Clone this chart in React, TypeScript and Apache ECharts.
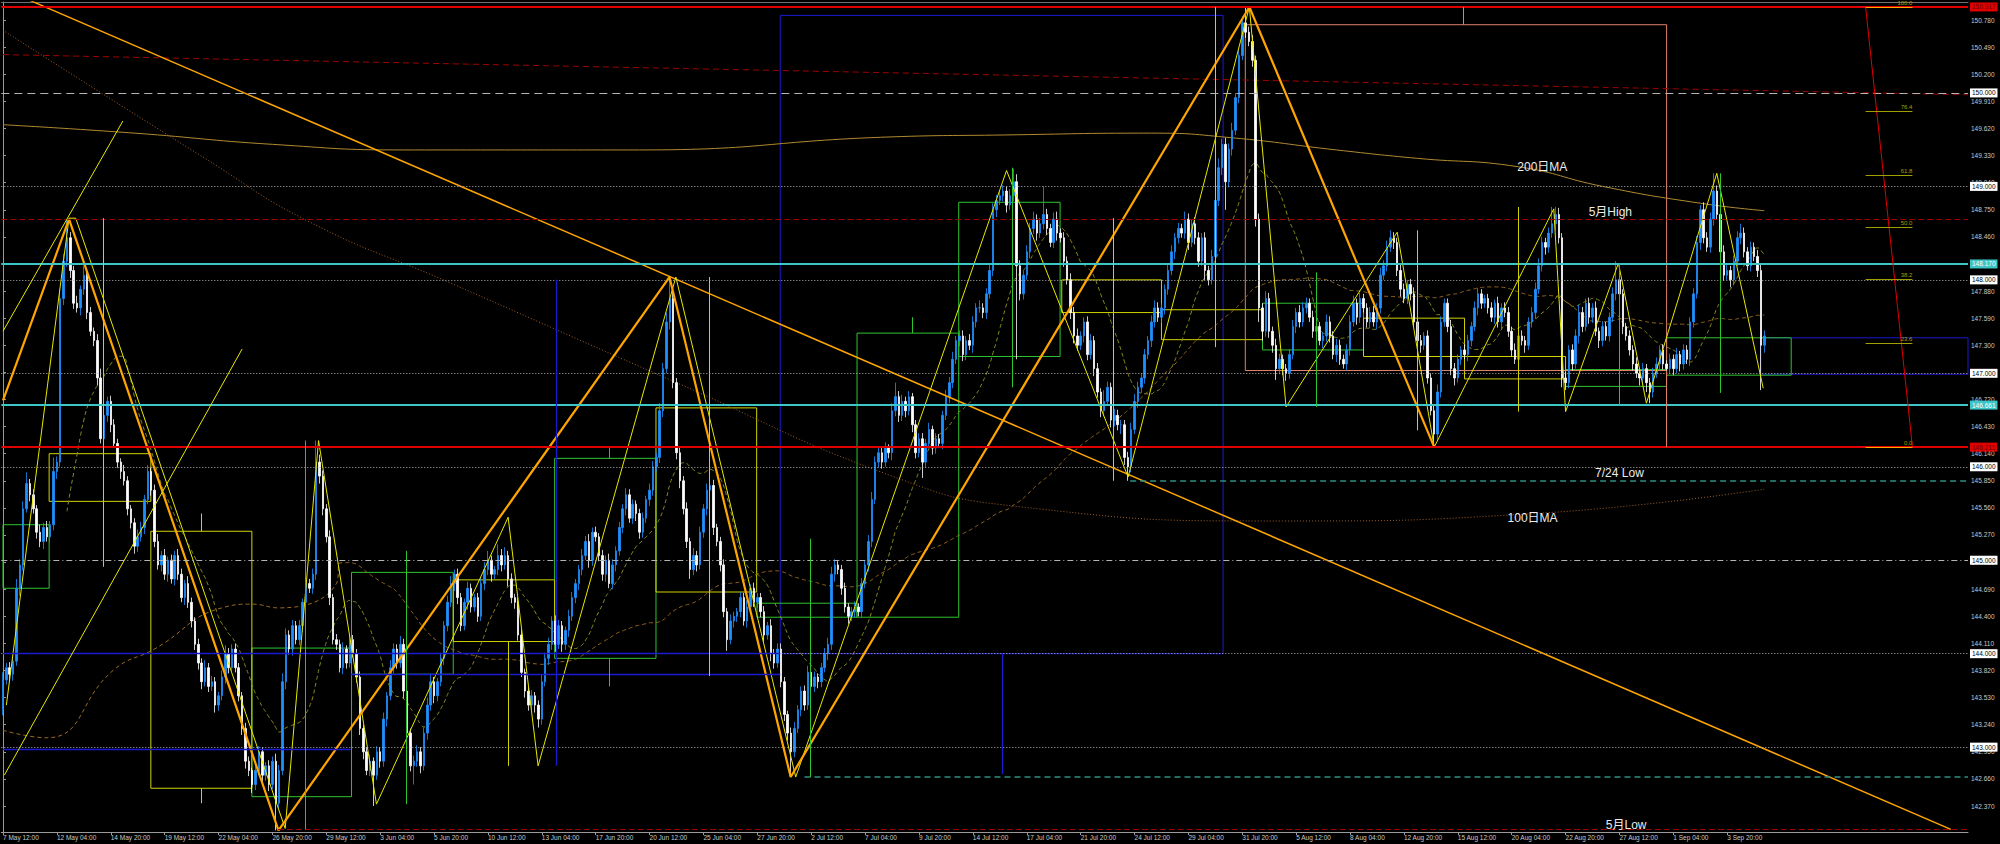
import React, { useEffect, useRef } from 'react';
import * as echarts from 'echarts';

// ---------- axis data ----------
const X_TICKS = ['7 May 12:00','12 May 04:00','14 May 20:00','19 May 12:00','22 May 04:00','26 May 20:00','29 May 12:00','3 Jun 04:00','5 Jun 20:00','10 Jun 12:00','13 Jun 04:00','17 Jun 20:00','20 Jun 12:00','25 Jun 04:00','27 Jun 20:00','2 Jul 12:00','7 Jul 04:00','9 Jul 20:00','14 Jul 12:00','17 Jul 04:00','21 Jul 20:00','24 Jul 12:00','29 Jul 04:00','31 Jul 20:00','5 Aug 12:00','8 Aug 04:00','12 Aug 20:00','15 Aug 12:00','20 Aug 04:00','22 Aug 20:00','27 Aug 12:00','1 Sep 04:00','3 Sep 20:00'];
const SLOTS = 584;
const TICK_EVERY = 16;
const Y_TICKS = [142.37,142.66,142.95,143.24,143.53,143.82,144.11,144.4,144.69,144.98,145.27,145.56,145.85,146.14,146.43,146.72,147.01,147.3,147.59,147.88,148.17,148.46,148.75,149.04,149.33,149.62,149.91,150.2,150.49,150.78];
const Y_MIN = 142.092;
const Y_MAX = 150.973;

// ---------- H4 candles (close per bar, open = previous close) ----------
const FIRST_OPEN = 143.40;
const CLOSE = [
  143.72,143.85,143.78,
  143.92,144.70,144.95,145.55,145.82,145.70,
  145.55,145.30,145.20,145.35,145.25,145.38,
  145.95,146.05,147.80,148.20,148.45,148.10,
  147.75,147.70,147.90,148.05,147.65,147.45,
  147.35,146.95,146.30,146.55,146.70,146.45,
  146.25,146.05,145.95,145.85,145.55,145.40,
  145.15,145.25,145.35,145.65,145.95,145.75,
  145.20,144.95,145.05,144.85,145.00,144.80,
  145.05,144.85,144.60,144.75,144.55,144.35,
  144.10,143.90,143.70,143.85,143.65,143.70,
  143.45,143.55,143.75,144.00,143.85,144.05,
  143.85,143.55,143.20,142.85,142.75,142.60,
  142.75,142.95,142.70,142.80,142.60,142.85,
  142.40,142.75,143.70,144.20,144.05,144.30,
  144.15,144.30,144.55,144.75,144.70,144.85,
  146.05,145.90,145.55,145.25,144.60,144.15,
  144.10,143.85,144.05,143.90,144.15,144.00,
  143.75,143.20,142.95,142.75,142.85,142.70,
  142.95,142.85,143.30,143.55,143.85,144.05,
  143.90,144.10,143.60,143.15,142.80,142.85,
  142.95,142.80,143.15,143.45,143.70,143.55,
  143.70,143.95,144.30,144.55,144.75,144.85,
  144.60,144.30,144.55,144.70,144.50,144.60,
  144.40,144.75,144.90,145.00,144.85,144.90,
  145.05,144.95,145.05,144.80,144.60,144.55,
  144.20,143.80,143.60,143.45,143.55,143.45,
  143.30,143.70,143.95,144.10,144.35,144.10,
  144.30,144.10,144.25,144.40,144.60,144.75,
  144.90,145.05,145.20,145.00,145.30,145.25,
  145.05,144.85,145.00,144.75,144.95,145.10,
  145.35,145.55,145.70,145.45,145.60,145.50,
  145.30,145.45,145.65,145.75,146.00,146.10,
  146.60,147.05,147.55,147.80,146.90,146.15,
  145.85,145.55,145.20,144.90,145.05,144.95,
  145.30,145.55,145.75,145.80,145.35,145.20,
  144.95,144.45,144.15,144.35,144.40,144.45,
  144.60,144.35,144.50,144.70,144.55,144.60,
  144.45,144.20,144.30,144.00,143.90,144.05,
  143.70,143.35,143.15,142.95,143.20,143.40,
  143.60,143.45,143.80,143.65,143.75,143.70,
  143.85,144.00,144.10,144.85,144.95,144.90,
  144.70,144.50,144.40,144.45,144.50,144.45,
  144.75,144.95,145.20,145.65,146.05,146.15,
  146.05,146.20,146.15,146.60,146.75,146.55,
  146.70,146.60,146.75,146.45,146.15,146.30,
  146.05,146.25,146.40,146.20,146.30,146.25,
  146.55,146.75,146.90,147.15,147.35,147.40,
  147.20,147.35,147.30,147.55,147.70,147.70,
  147.65,147.85,148.10,148.75,148.85,148.90,
  148.95,148.80,148.90,149.05,148.15,147.85,
  148.05,148.30,148.55,148.65,148.50,148.60,
  148.70,148.55,148.40,148.65,148.50,148.45,
  148.20,148.00,147.65,147.40,147.30,147.40,
  147.55,147.20,147.35,147.05,146.80,146.60,
  146.70,146.85,146.50,146.55,146.45,146.45,
  146.10,146.00,146.40,146.70,146.85,146.95,
  147.20,147.35,147.55,147.70,147.60,147.70,
  147.90,148.10,148.30,148.45,148.55,148.50,
  148.65,148.40,148.60,148.45,148.20,148.45,
  148.10,148.00,148.25,148.85,149.20,149.45,
  149.05,149.40,149.60,149.95,150.40,150.75,
  150.65,150.55,150.35,148.65,147.70,147.45,
  147.80,147.45,147.30,147.05,147.15,147.05,
  147.00,147.20,147.50,147.65,147.55,147.70,
  147.75,147.60,147.45,147.50,147.35,147.40,
  147.55,147.40,147.20,147.30,147.15,147.10,
  147.25,147.55,147.75,147.60,147.80,147.70,
  147.55,147.65,147.55,147.70,148.05,148.15,
  148.35,148.45,148.40,148.10,147.90,147.80,
  147.95,147.85,147.55,147.35,147.30,147.40,
  146.95,146.60,146.35,146.80,147.55,147.75,
  147.50,147.05,146.95,147.15,147.25,147.20,
  147.35,147.50,147.70,147.85,147.75,147.80,
  147.70,147.60,147.75,147.55,147.70,147.65,
  147.45,147.25,147.15,147.40,147.35,147.30,
  147.55,147.65,147.90,148.15,148.40,148.35,
  148.50,148.60,148.70,148.45,146.95,146.90,
  147.25,147.10,147.40,147.65,147.50,147.75,
  147.60,147.70,147.45,147.35,147.50,147.40,
  147.60,147.85,148.00,147.85,147.50,147.40,
  147.25,147.10,147.00,146.95,147.05,146.90,
  146.80,147.00,147.10,147.25,147.10,147.05,
  147.15,147.05,147.20,147.10,147.25,147.15,
  147.55,147.85,148.40,148.75,148.45,148.35,
  148.65,148.95,148.70,148.30,148.05,148.10,
  148.00,148.20,148.45,148.50,148.30,148.15,
  148.35,148.25,148.10,147.30,147.40,
];
// upper / lower wick lengths in hundredths of a yen
const UP = [
  8,5,6,
  4,10,6,8,12,5, 6,4,8,5,7,4, 15,6,10,8,20,6, 5,8,4,10,5,6, 4,7,10,8,5,6,
  6,5,4,7,5,4, 5,8,6,5,7,4, 6,8,5,7,4,6, 5,7,6,4,8,5, 4,6,5,8,5,6,
  5,4,7,9,6,5, 6,5,4,6,5,3, 7,6,5,4,6,5, 8,6,9,7,5,6, 5,6,4,7,5,6,
  23,8,6,5,7,4, 6,5,7,4,6,5, 5,6,4,5,7,4, 6,5,7,4,8,6, 5,9,6,4,5,6,
  7,5,6,8,9,5, 4,6,5,7,8,5, 6,5,4,7,5,4, 5,6,8,10,5,4, 12,7,9,5,6,4,
  5,6,4,5,6,4, 5,8,6,7,5,6, 6,5,4,7,6,5, 5,7,6,8,5,6, 4,6,5,7,6,5,
  6,5,7,6,5,4, 5,6,4,7,6,5, 8,6,10,23,9,5, 6,5,7,4,8,5, 6,5,7,8,6,4,
  5,6,4,7,5,4, 6,5,7,4,6,5, 5,6,4,7,5,6, 6,5,4,6,7,5, 5,6,7,5,6,4,
  5,6,7,8,6,4, 5,6,4,5,6,4, 6,5,7,8,6,5, 5,6,4,8,15,6, 7,5,6,4,5,6,
  6,5,7,4,6,5, 5,7,6,8,5,6, 6,5,7,6,5,8, 5,6,8,7,6,5, 6,5,7,14,8,6,
  5,7,6,8,5,6, 30,6,5,7,8,5, 6,5,7,6,8,5, 5,6,7,5,6,4, 12,6,5,7,6,5,
  5,6,7,8,6,5, 6,5,7,8,6,5, 5,6,7,5,6,5, 8,6,5,7,6,5, 6,5,7,8,10,6,
  7,6,8,5,6,7, 17,6,7,5,6,5, 8,6,5,7,6,5, 5,6,7,5,8,6, 6,5,7,6,5,4,
  8,6,5,7,6,5, 6,7,8,5,6,5, 5,6,7,5,8,6, 7,8,6,5,7,6, 5,6,7,5,6,4,
  6,5,7,8,6,5, 5,7,6,5,4,6, 6,5,7,6,5,4, 5,6,4,7,5,6, 6,5,7,4,6,5,
  5,6,7,8,6,5, 6,18,8,7,5,6, 5,6,7,8,6,5, 6,5,7,4,6,5, 5,7,20,6,5,4,
  6,5,7,4,6,5, 5,6,7,5,6,4, 6,5,7,4,6,5, 5,6,7,5,8,6, 7,19,6,5,7,6,
  5,6,7,10,6,5, 6,5,7,8,6,
];
const DN = [
  6,5,8,
  7,5,8,6,4,7, 5,7,6,8,5,6, 6,8,5,7,6,8, 6,5,8,6,7,5, 6,8,5,10,7,8,
  5,6,8,5,7,6, 8,6,5,7,5,6, 6,5,7,6,8,5, 7,6,5,8,6,7, 6,7,8,5,6,5,
  8,6,5,7,6,4, 5,6,7,8,6,9, 6,5,8,6,7,5, 29,6,5,8,6,7, 5,6,7,8,5,6,
  6,8,7,6,8,5, 6,5,7,6,5,4, 6,7,8,5,6,33, 5,7,6,8,5,6, 6,5,8,7,6,20,
  6,8,5,7,6,8, 6,5,7,6,5,8, 7,6,5,8,6,5, 6,5,7,6,8,5, 6,7,5,8,6,7,
  6,5,7,6,5,8, 9,6,5,7,6,8, 5,8,6,7,5,6, 7,6,5,8,6,5, 6,7,8,5,6,7,
  5,6,7,5,6,8, 7,6,5,7,6,5, 6,7,5,8,6,7, 8,6,7,10,6,7, 5,6,7,6,8,5,
  7,6,12,5,7,6, 6,5,7,6,5,6, 6,7,5,8,6,5, 6,7,8,27,6,5, 7,6,5,8,6,7,
  6,5,7,6,8,5, 7,6,8,5,6,5, 6,5,7,6,5,6, 7,5,6,8,6,7, 6,7,5,8,6,5,
  17,6,5,7,6,5, 6,5,7,6,5,6, 7,6,5,8,6,5, 6,7,5,6,8,5, 6,8,5,6,100,7,
  6,5,7,6,8,5, 6,7,5,6,8,5, 6,5,7,8,6,5, 7,6,5,8,6,7, 6,5,8,7,6,10,
  8,15,6,5,7,6, 6,5,7,6,5,6, 7,6,5,8,6,5, 6,8,5,7,6,5, 10,6,5,7,6,8,
  30,6,7,5,6,5, 6,5,7,8,15,10, 6,7,8,12,6,7, 8,6,5,7,6,5, 6,5,7,6,5,8,
  6,7,5,8,6,5, 7,6,5,8,6,5, 6,7,5,8,6,5, 6,5,7,6,8,5, 6,7,5,6,8,5,
  6,5,14,7,6,5, 6,7,8,5,6,5, 7,6,5,8,6,5, 6,5,7,6,8,5, 6,7,5,6,5,8,
  5,6,7,5,6,8, 6,5,7,6,10,8, 6,7,5,8,6,5, 7,6,5,8,6,5, 6,5,7,6,8,5,
  6,7,5,8,6,10, 12,6,5,7,6,5, 6,7,5,8,6,5, 7,6,5,8,6,5, 6,7,5,8,6,5,
  8,6,5,7,6,5, 6,5,7,48,8,
];

// ---------- indicator lines (bar index, price) ----------
const MA200D = [[0,149.66],[39,149.57],[80,149.45],[119,149.39],[189,149.39],[264,149.53],[297,149.55],[341,149.57],[365,149.52],[396,149.39],[420,149.3],[450,149.21],[475,149.0],[504,148.82],[523,148.74]];
const MA100D = [[0,150.67],[60,149.3],[91,148.62],[132,147.98],[200,146.9],[264,145.9],[300,145.58],[380,145.42],[455,145.5],[523,145.76]];
const SLOW_HEAD = [[0,143.18],[13,143.1],[33,143.83],[45,144.05],[65,144.49],[74,144.53],[82,144.49],[99,144.75]];
const RED_TREND = [[0,150.41],[583.5,149.98]];

// ---------- drawn objects ----------
const ZZ_ORANGE = [[0,146.71],[19.6,148.65],[81.8,142.11],[197.9,148.03],[233.9,142.68],[370.1,150.92],[425,146.21]];
const ZZ_YELLOW = [[1,143.45],[19.6,148.66],[21.6,148.66],[83.8,142.13],[93.7,146.28],[110.9,142.39],[150,145.46],[158.9,142.8],[199.8,148.03],[235.4,142.68],[298,149.17],[334.1,145.89],[370.1,150.92],[381,146.64],[414,148.51],[425,146.21],[460.5,148.76],[464,146.59],[479.7,148.18],[488,146.68],[508.9,149.14],[522.7,146.84]];
const TREND_ORANGE = [[8,150.99],[578.4,142.12]];
const TREND_YELLOW = [[[0,147.45],[35.6,149.7]],[[0.4,142.7],[71,147.26]]];

const RED_LEVELS = [150.917, 146.211];
const CYAN_LEVELS = [148.17, 146.661];
const ROUND_DOTTED = [149, 148, 147, 146, 144, 143];
const ROUND_DASHED = 150;
const ROUND_DASHDOT = 145;
const MAY_HIGH = 148.65;
const MAY_LOW = [81.6, 142.12];
const LOW_0724 = [334.7, 145.85];
const LOW_0701 = [238, 142.68];

const BLUE_RECTS = [[230.8,362.3,144.0,150.83],[522,583.5,146.99,147.38]];
const BLUE_SEGS = [[[0,144.0],[230.8,144.0]],[[0,142.98],[103.2,142.98]],[[103.2,143.78],[230.8,143.78]],[[38.6,142.09],[38.6,148.66]],[[164.2,142.8],[164.2,148.0]],[[296.6,142.71],[296.6,144.0]]];
const GREEN_RECTS = [[0,13.7,144.7,145.38],[73.9,103.5,142.47,144.06],[103.5,133.7,143.78,144.87],[163.8,193.9,143.95,146.09],[223.9,253.6,144.39,144.54],[253.6,283.8,144.39,147.43],[283.8,313.9,147.18,148.83],[374,404,147.25,147.75],[464,494,146.86,147.04],[494,531,146.98,147.38]];
const GREEN_VLINES = [[89.7,142.12,146.28],[119.8,142.39,145.1],[179.9,146.09,146.2],[179.9,143.65,143.95],[239.7,142.68,145.23],[270,147.43,147.6],[299.8,146.85,149.2],[389.9,146.64,148.08],[480,146.66,148.18],[510,146.79,149.14]];
const YELLOW_RECTS = [[13.7,43.9,145.63,146.14],[43.9,73.9,142.56,145.31],[133.7,163.8,144.13,144.79],[193.9,223.8,144.66,146.63],[314.4,344,147.65,148.0],[344,374,147.36,147.68],[404,434,147.18,147.59],[434,464,146.94,147.18]];
const YELLOW_VLINES = [[29.8,144.93,148.66],[59,145.31,145.5],[59,142.4,142.56],[150,142.8,144.13],[209.8,143.76,148.03],[329.8,145.85,148.66],[360,147.28,150.92],[420,146.39,148.53],[450,146.59,148.78]];
const SALMON_RECT = [368.9,494,147.03,150.73];
const SALMON_SEGS = [[[494,146.21],[494,147.03]],[[433.7,150.73],[433.7,150.92]]];

const FIB_X = [553.1, 567];
const FIB_LEVELS = [0, 23.6, 38.2, 50, 61.8, 76.4, 100];
const FIB_LOW = 146.211;
const FIB_HIGH = 150.917;

const NOTES = [
  { text: '200日MA', at: [457.1, 149.207] },
  { text: '5月High', at: [477.3, 148.726] },
  { text: '7/24 Low', at: [480, 145.933] },
  { text: '100日MA', at: [454.2, 145.452] },
  { text: '5月Low', at: [482, 142.167] },
];

// ---------- styles ----------
const COL = {
  bg: '#000000', axis: '#9a9a9a', label: '#c8c8c8', up: '#1e90ff', down: '#ffffff',
  red: '#e00000', darkRed: '#a00000', cyan: '#3cc6c6', grid: '#b4b4b4', teal: '#2f8f80',
  blue: '#1a1ad0', green: '#2ec42e', yellow: '#d2d200', zz: '#e8e800', orange: '#ffa500',
  salmon: '#e0806a', olive: '#a0a000', ma200: '#b08a30', ma100: '#a0602a', fast: '#8c8c20', slow: '#9a6a20',
};
const FONT = "'Liberation Sans', Arial, sans-serif";
const CJK = "'Liberation Sans', 'Noto Sans CJK JP', sans-serif";

function seg(p1: number[], p2: number[], color: string, width = 1, type: any = 'solid') {
  return [{ coord: p1, lineStyle: { color, width, type }, label: { show: false } }, { coord: p2 }];
}
function hline(v: number, color: string, width: number, type: any, box?: { text: string; bg: string; fg: string }) {
  return {
    yAxis: v,
    lineStyle: { color, width, type },
    label: box
      ? { show: true, position: 'end', distance: 2, formatter: box.text, backgroundColor: box.bg, color: box.fg, fontSize: 6.5, fontFamily: FONT, padding: [1, 2, 1, 2] }
      : { show: false },
  };
}
function rect(r: number[], color: string) {
  return [{ coord: [r[0], r[3]], itemStyle: { color: 'rgba(0,0,0,0)', borderColor: color, borderWidth: 1 } }, { coord: [r[1], r[2]] }];
}
function poly(data: any[], color: string, width: number, type: any = 'solid', smooth = false, z = 3) {
  return { type: 'line', xAxisIndex: 1, yAxisIndex: 0, data, symbol: 'none', smooth, silent: true, z, lineStyle: { color, width, type }, animation: false };
}
function sma(p: number) {
  const out: number[][] = [];
  let s = 0;
  for (let i = 0; i < CLOSE.length; i++) {
    s += CLOSE[i];
    if (i >= p) s -= CLOSE[i - p];
    if (i >= p - 1) out.push([i, +(s / p).toFixed(3)]);
  }
  return out;
}

function buildOption() {
  const ohlc = CLOSE.map((c, i) => {
    const o = i === 0 ? FIRST_OPEN : CLOSE[i - 1];
    return [o, c, +(Math.min(o, c) - DN[i] / 100).toFixed(3), +(Math.max(o, c) + UP[i] / 100).toFixed(3)];
  });
  const cats = Array.from({ length: SLOTS }, (_, i) => 'b' + i);
  const showTick = (idx: number) => idx % TICK_EVERY === 0 && idx / TICK_EVERY < X_TICKS.length;
  const white = (v: number) => ({ text: v.toFixed(3), bg: '#ffffff', fg: '#000000' });

  const lines: any[] = [];
  lines.push(hline(RED_LEVELS[0], COL.red, 2, 'solid', { text: RED_LEVELS[0].toFixed(3), bg: COL.red, fg: '#700000' }));
  lines.push(hline(RED_LEVELS[1], COL.red, 2, 'solid', { text: RED_LEVELS[1].toFixed(3), bg: COL.red, fg: '#700000' }));
  lines.push(hline(CYAN_LEVELS[0], COL.cyan, 2, 'solid', { text: CYAN_LEVELS[0].toFixed(3), bg: COL.cyan, fg: '#ffffff' }));
  lines.push(hline(CYAN_LEVELS[1], COL.cyan, 2, 'solid', { text: CYAN_LEVELS[1].toFixed(3), bg: COL.cyan, fg: '#ffffff' }));
  lines.push(hline(ROUND_DASHED, COL.grid, 1, [8, 5], white(ROUND_DASHED)));
  lines.push(hline(ROUND_DASHDOT, COL.grid, 1, [6, 3, 1, 3], white(ROUND_DASHDOT)));
  ROUND_DOTTED.forEach((v) => lines.push(hline(v, COL.grid, 1, [1, 2], white(v))));
  lines.push(hline(MAY_HIGH, COL.darkRed, 1, [6, 3]));
  lines.push(seg([MAY_LOW[0], MAY_LOW[1]], [583.5, MAY_LOW[1]], COL.darkRed, 1, [6, 3]));
  lines.push(seg([LOW_0724[0], LOW_0724[1]], [583.5, LOW_0724[1]], COL.teal, 1.5, [6, 4]));
  lines.push(seg([LOW_0701[0], LOW_0701[1]], [583.5, LOW_0701[1]], COL.teal, 1.5, [6, 4]));
  BLUE_SEGS.forEach((s) => lines.push(seg(s[0], s[1], COL.blue, 1.3)));
  GREEN_VLINES.forEach((g) => lines.push(seg([g[0], g[1]], [g[0], g[2]], COL.green, 1)));
  YELLOW_VLINES.forEach((g) => lines.push(seg([g[0], g[1]], [g[0], g[2]], COL.yellow, 1)));
  SALMON_SEGS.forEach((s) => lines.push(seg(s[0], s[1], COL.salmon, 1)));
  TREND_YELLOW.forEach((s) => lines.push(seg(s[0], s[1], COL.zz, 1)));
  // fibonacci
  lines.push(seg([FIB_X[0], FIB_HIGH], [FIB_X[1], FIB_LOW], COL.red, 1));
  FIB_LEVELS.forEach((lv) => {
    const v = FIB_LOW + ((FIB_HIGH - FIB_LOW) * lv) / 100;
    const c = lv === 0 || lv === 100 ? COL.orange : COL.olive;
    lines.push(seg([FIB_X[0], v], [FIB_X[1], v], c, 1));
  });

  const areas: any[] = [];
  BLUE_RECTS.forEach((r) => areas.push(rect(r, COL.blue)));
  GREEN_RECTS.forEach((r) => areas.push(rect(r, COL.green)));
  YELLOW_RECTS.forEach((r) => areas.push(rect(r, COL.yellow)));
  areas.push(rect(SALMON_RECT, COL.salmon));

  const points: any[] = [];
  NOTES.forEach((n) =>
    points.push({
      coord: n.at, symbol: 'rect', symbolSize: 0,
      label: { show: true, position: 'inside', formatter: n.text, color: '#ececec', fontSize: 12, fontFamily: CJK },
    })
  );
  FIB_LEVELS.forEach((lv) => {
    const v = FIB_LOW + ((FIB_HIGH - FIB_LOW) * lv) / 100;
    points.push({
      coord: [FIB_X[1], v], symbol: 'rect', symbolSize: 0,
      label: { show: true, position: [0, -1], align: 'right', verticalAlign: 'bottom', formatter: lv.toFixed(1), color: COL.olive, fontSize: 6, fontFamily: FONT },
    });
  });

  const slowMA = SLOW_HEAD.concat(sma(100).filter((p) => p[0] > 99));

  return {
    animation: false,
    backgroundColor: COL.bg,
    grid: { left: -3, right: 32, top: 2, bottom: 12, containLabel: false },
    xAxis: [
      {
        type: 'category', data: cats, boundaryGap: true,
        axisLine: { show: true, lineStyle: { color: COL.axis } },
        axisTick: { show: true, interval: (i: number) => showTick(i), alignWithLabel: true, length: 3, lineStyle: { color: COL.axis } },
        axisLabel: {
          show: true, interval: (i: number) => showTick(i), hideOverlap: false,
          formatter: (_v: string, i: number) => (showTick(i) ? X_TICKS[i / TICK_EVERY] : ''),
          align: 'left', fontSize: 6.5, color: COL.label, fontFamily: FONT, margin: 2,
        },
        splitLine: { show: false },
      },
      {
        type: 'value', min: -0.5, max: SLOTS - 0.5, position: 'top', show: true,
        axisLine: { show: true, lineStyle: { color: '#707070' } }, axisTick: { show: false }, axisLabel: { show: false }, splitLine: { show: false },
      },
    ],
    yAxis: [
      {
        type: 'value', position: 'right', min: Y_MIN, max: Y_MAX, scale: true,
        axisLine: { show: true, lineStyle: { color: COL.axis } },
        axisTick: { show: true, length: 3, customValues: Y_TICKS, lineStyle: { color: COL.axis } },
        axisLabel: { show: true, customValues: Y_TICKS, formatter: (v: number) => v.toFixed(3), fontSize: 6.5, color: COL.label, fontFamily: FONT, margin: 3 },
        splitLine: { show: false },
      },
    ],
    series: [
      poly(MA200D, COL.ma200, 1, 'solid', true, 1),
      poly(MA100D, COL.ma100, 1, [1, 2], true, 1),
      poly(RED_TREND, COL.darkRed, 1, [6, 4], false, 1),
      poly(slowMA, COL.slow, 1, [4, 3], true, 1),
      poly(sma(20), COL.fast, 1, [4, 3], true, 1),
      {
        type: 'candlestick', xAxisIndex: 0, yAxisIndex: 0, data: ohlc, barWidth: 2, z: 2, silent: true,
        itemStyle: { color: COL.up, color0: COL.down, borderColor: COL.up, borderColor0: COL.down, borderWidth: 0.8 },
      },
      {
        type: 'line', xAxisIndex: 1, yAxisIndex: 0, data: [[9999, 0]], symbol: 'none', z: 3, silent: true,
        markLine: { silent: true, symbol: ['none', 'none'], animation: false, data: lines, label: { show: false } },
        markArea: { silent: true, animation: false, data: areas, label: { show: false } },
        markPoint: { silent: true, animation: false, data: points },
      },
      poly(TREND_ORANGE, COL.orange, 1.5, 'solid', false, 4),
      poly(ZZ_YELLOW, COL.zz, 1, 'solid', false, 4),
      poly(ZZ_ORANGE, COL.orange, 2.2, 'solid', false, 4),
    ],
  };
}

export default function App() {
  const ref = useRef<HTMLDivElement>(null);
  useEffect(() => {
    if (!ref.current) return;
    const chart = echarts.init(ref.current, null, { renderer: 'svg' });
    chart.setOption(buildOption() as any);
    return () => chart.dispose();
  }, []);
  return <div ref={ref} style={{ position: 'absolute', left: 0, top: 0, width: 2000, height: 844, background: '#000' }} />;
}
